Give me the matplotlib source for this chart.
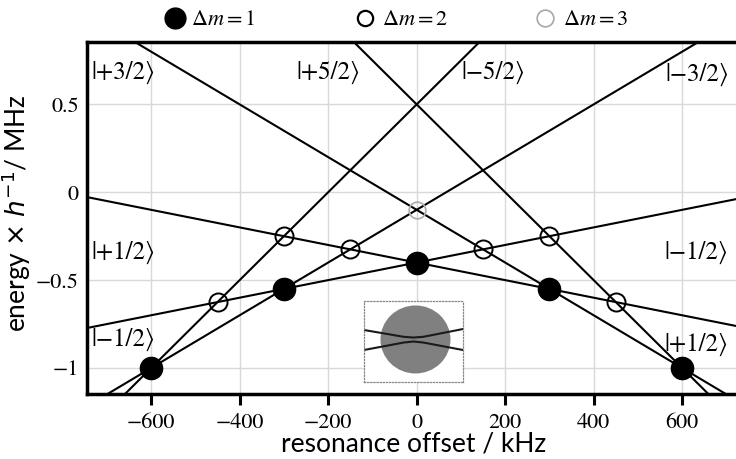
import matplotlib
matplotlib.use("Agg")
import matplotlib.pyplot as plt
from matplotlib.patches import Ellipse
from matplotlib.lines import Line2D

# ---------------- data ----------------
level_names = ['+5/2', '+3/2', '+1/2', '-1/2', '-3/2', '-5/2']
x_ends = [-750, 750]                       # kHz
energy_left = [2.375, 1.025, -0.025, -0.775, -1.225, -1.375]   # MHz at -750 kHz
energy_right = [-1.375, -1.225, -0.775, -0.025, 1.025, 2.375]  # MHz at +750 kHz

dm1_x = [-600, -300, 0, 300, 600]
dm1_y = [-1.0, -0.55, -0.4, -0.55, -1.0]
dm2_x = [-450, -300, -150, 150, 300, 450]
dm2_y = [-0.625, -0.25, -0.325, -0.325, -0.25, -0.625]
dm3_x = [0]
dm3_y = [-0.1]

label_texts = ['|+3/2⟩', '|+5/2⟩', '|−5/2⟩', '|−3/2⟩',
               '|+1/2⟩', '|−1/2⟩', '|+1/2⟩', '|−1/2⟩']
label_x = [-735, -272, 101, 562, -735, 560, 560, -735]
label_y = [0.678, 0.678, 0.678, 0.667, -0.346, -0.346, -0.869, -0.841]

xticks = [-600, -400, -200, 0, 200, 400, 600]
yticks = [-1, -0.5, 0, 0.5]
xtick_labels = ['−600', '−400', '−200', '0', '200', '400', '600']
ytick_labels = ['−1', '−0.5', '0', '0.5']

legend_labels = [r'$\Delta m = 1$', r'$\Delta m = 2$', r'$\Delta m = 3$']

# inset schematic (avoided crossing)
inset_upper_x = [0.0, 0.4, 0.5, 0.6, 1.0]
inset_upper_y = [0.642, 0.558, 0.549, 0.558, 0.654]
inset_lower_x = [0.0, 0.4, 0.5, 0.6, 1.0]
inset_lower_y = [0.395, 0.487, 0.500, 0.487, 0.395]

# ---------------- figure ----------------
W, H = 736, 459
fig = plt.figure(figsize=(W / 100, H / 100), dpi=100)

ax_l, ax_r, ax_t, ax_b = 87, 740, 42, 394
ax = fig.add_axes([ax_l / W, 1 - ax_b / H, (ax_r - ax_l) / W, (ax_b - ax_t) / H])
ax.set_xlim(-745, 730.7)
ax.set_ylim(-1.148, 0.855)

ax.grid(True, color='#d9d9d9', linewidth=1.0, zorder=0)
ax.set_axisbelow(True)

for yl, yr in zip(energy_left, energy_right):
    ax.plot(x_ends, [yl, yr], color='black', linewidth=1.5, zorder=2)

ax.plot(dm1_x, dm1_y, 'o', markersize=16, markerfacecolor='black',
        markeredgecolor='black', zorder=4)
ax.plot(dm2_x, dm2_y, 'o', markersize=13, markerfacecolor='none',
        markeredgecolor='black', markeredgewidth=1.4, zorder=4)
ax.plot(dm3_x, dm3_y, 'o', markersize=12, markerfacecolor='none',
        markeredgecolor='#b0b0b0', markeredgewidth=1.3, zorder=4)

for t, x, y in zip(label_texts, label_x, label_y):
    ax.text(x, y, t, fontsize=18, family='STIXGeneral', ha='left', va='center',
            zorder=5)

ax.set_xticks(xticks)
ax.set_xticklabels(xtick_labels, fontfamily='STIXGeneral', fontsize=16)
ax.set_yticks(yticks)
ax.set_yticklabels(ytick_labels, fontfamily='STIXGeneral', fontsize=16)
ax.tick_params(axis='x', direction='out', length=8, width=2.2, pad=6)
ax.tick_params(axis='y', length=0, pad=6)
for lbl in ax.get_xticklabels() + ax.get_yticklabels():
    lbl.set_fontfamily('STIXGeneral')

for s in ['left', 'bottom', 'top']:
    ax.spines[s].set_linewidth(2.5)
ax.spines['right'].set_visible(False)

ax.set_xlabel('resonance offset / kHz', family='Lato', fontsize=19, labelpad=-1)
ylab = ax.set_ylabel(r'energy $\times$ $h^{-1}$/ MHz', family='Lato', fontsize=19)
ylab.set_math_fontfamily('dejavusans')
ax.yaxis.set_label_coords(-0.083, 0.515)

# ---------------- legend (above the axes) ----------------
leg_marker_x = [175, 365, 545]
leg_text_x = [191, 382, 563]
leg_y = 18
leg_styles = [dict(markersize=15, markerfacecolor='black', markeredgecolor='black'),
              dict(markersize=11, markerfacecolor='none', markeredgecolor='black',
                   markeredgewidth=1.6),
              dict(markersize=12, markerfacecolor='none', markeredgecolor='#a8a8a8',
                   markeredgewidth=1.2)]
for mx, tx, lab, st in zip(leg_marker_x, leg_text_x, legend_labels, leg_styles):
    fig.add_artist(Line2D([mx / W], [1 - leg_y / H], marker='o', linestyle='none',
                          transform=fig.transFigure, **st))
    t = fig.text(tx / W, 1 - (leg_y + 1) / H, lab, fontsize=16, ha='left',
                 va='center')
    t.set_math_fontfamily('stix')

# ---------------- inset ----------------
in_l, in_r, in_t, in_b = 364, 463, 301, 382
iax = fig.add_axes([in_l / W, 1 - in_b / H, (in_r - in_l) / W, (in_b - in_t) / H])
iax.set_xlim(0, 1)
iax.set_ylim(0, 1)
iax.set_xticks([])
iax.set_yticks([])
iax.set_facecolor('white')
for s in iax.spines.values():
    s.set_linestyle((0, (1, 1.5)))
    s.set_edgecolor('#888888')
    s.set_linewidth(0.9)
iax.add_patch(Ellipse((0.52, 0.525), 70 / 99, 68 / 81, facecolor='#808080',
                      edgecolor='none'))
iax.plot(inset_upper_x, inset_upper_y, color='#1a1a1a', linewidth=1.5)
iax.plot(inset_lower_x, inset_lower_y, color='#1a1a1a', linewidth=1.5)

fig.savefig('out.png', dpi=100)
